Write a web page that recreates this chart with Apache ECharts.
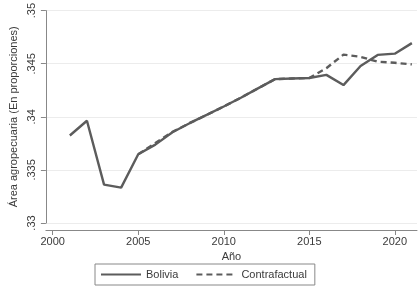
<!DOCTYPE html>
<html>
<head>
<meta charset="utf-8">
<script src="https://cdn.jsdelivr.net/npm/echarts@6/dist/echarts.min.js"></script>
<style>
  html, body { margin: 0; padding: 0; background: #fff; }
  #chart { width: 420px; height: 286px; }
</style>
</head>
<body>
<div id="chart"></div>
<script>
// años y series
var years = [2001, 2002, 2003, 2004, 2005, 2006, 2007, 2008, 2009, 2010, 2011,
             2012, 2013, 2014, 2015, 2016, 2017, 2018, 2019, 2020, 2021];
var bolivia = [0.33824, 0.33963, 0.33361, 0.33333, 0.33648, 0.33738, 0.33855,
               0.33940, 0.34018, 0.34097, 0.34180, 0.34268, 0.34355, 0.34361,
               0.34366, 0.34395, 0.34299, 0.34479, 0.34583, 0.34595, 0.34694];
var contrafactual = [null, null, null, null, 0.33648, 0.33753, 0.33858,
                     0.33940, 0.34018, 0.34097, 0.34180, 0.34268, 0.34355, 0.34361,
                     0.34366, 0.34458, 0.34586, 0.34565, 0.34519, 0.34509, 0.34494];
var xTicks = [2000, 2005, 2010, 2015, 2020];

var chart = echarts.init(document.getElementById('chart'));

function pairs(vals) {
  var out = [];
  for (var i = 0; i < years.length; i++) {
    if (vals[i] != null) out.push([years[i], vals[i]]);
  }
  return out;
}

var lineColor = '#5c5c5c';
var textColor = '#3a3a3a';

var option = {
  animation: false,
  textStyle: { fontFamily: 'Liberation Sans, Arial, sans-serif' },
  grid: { left: 33, right: 3, top: 7, bottom: 63, containLabel: false },
  xAxis: {
    type: 'value',
    min: 1999.6,
    max: 2021.3,
    offset: 7,
    name: 'Año',
    nameLocation: 'middle',
    nameGap: 20,
    nameTextStyle: { color: textColor, fontSize: 11 },
    axisLine: { show: true, onZero: false, lineStyle: { color: '#888', width: 1 } },
    axisTick: { show: true, length: 5, lineStyle: { color: '#888' }, customValues: xTicks },
    axisLabel: { color: textColor, fontSize: 11, margin: 6, customValues: xTicks,
      formatter: function (v) { return String(Math.round(v)); } },
    splitLine: { show: false }
  },
  yAxis: {
    type: 'value',
    min: 0.33,
    max: 0.35,
    interval: 0.005,
    name: 'Área agropecuaria (En proporciones)',
    nameLocation: 'middle',
    nameGap: 25,
    nameRotate: 90,
    nameTextStyle: { color: textColor, fontSize: 11 },
    axisLine: { show: true, lineStyle: { color: '#888', width: 1 } },
    axisTick: { show: true, length: 5, lineStyle: { color: '#888' } },
    axisLabel: {
      color: textColor, fontSize: 11, rotate: 90, margin: 8,
      formatter: function (v) {
        var s = String(parseFloat(v.toFixed(4)));
        return s.replace(/^0/, '');
      }
    },
    splitLine: { show: true, lineStyle: { color: '#ececec', width: 1 } }
  },
  legend: {
    bottom: 1,
    left: 95,
    itemWidth: 40,
    itemHeight: 10,
    itemGap: 17,
    padding: [5, 8, 5, 5],
    borderColor: '#888',
    borderWidth: 1,
    itemStyle: { opacity: 0 },
    textStyle: { color: textColor, fontSize: 11 },
    data: ['Bolivia', 'Contrafactual']
  },
  series: [
    {
      name: 'Bolivia',
      type: 'line',
      data: pairs(bolivia),
      showSymbol: false,
      symbol: 'none',
      lineStyle: { color: lineColor, width: 2.4 },
      itemStyle: { color: lineColor },
      z: 3
    },
    {
      name: 'Contrafactual',
      type: 'line',
      data: pairs(contrafactual),
      showSymbol: false,
      symbol: 'none',
      lineStyle: { color: lineColor, width: 2.4, type: [6, 4] },
      itemStyle: { color: lineColor },
      z: 2
    }
  ]
};

chart.setOption(option);
window.onresize = function () { chart.resize(); };
</script>
</body>
</html>
